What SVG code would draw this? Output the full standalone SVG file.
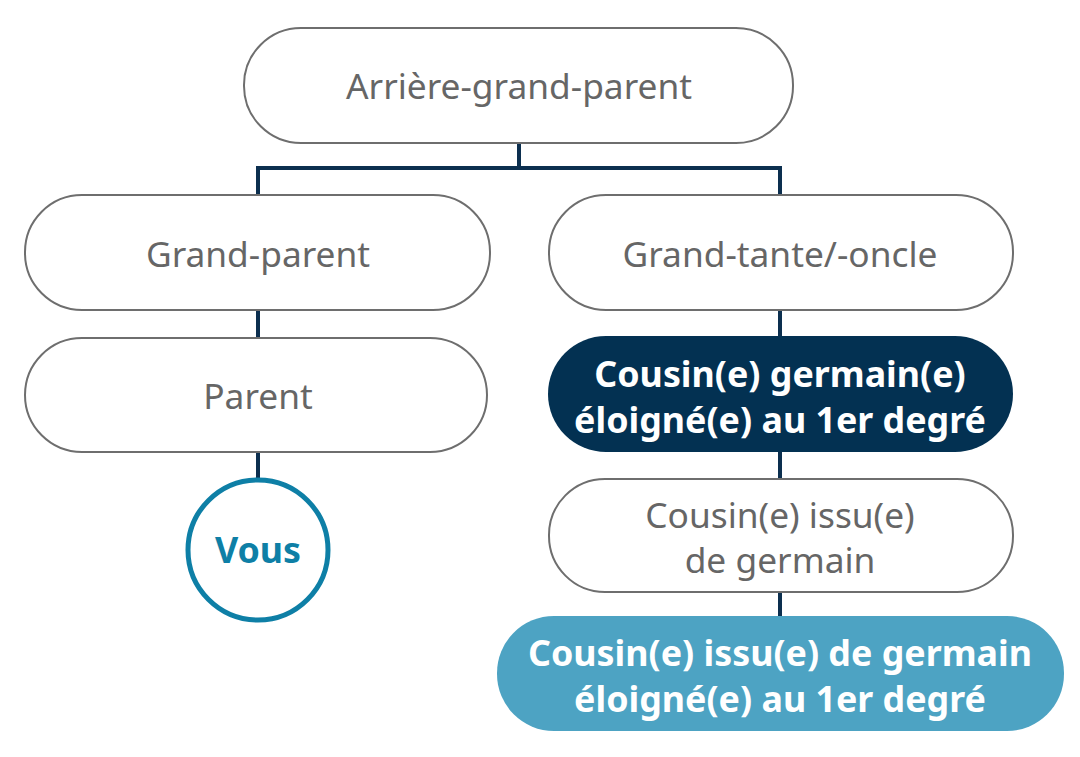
<svg xmlns="http://www.w3.org/2000/svg" width="1080" height="757" viewBox="0 0 1080 757">
<style>
.box{fill:#fff;stroke:#6e6e6e;stroke-width:2}
.t{font-family:"Noto Sans","Liberation Sans",sans-serif;font-size:35.3px;fill:#666;text-anchor:middle}
.b{font-family:"Noto Sans","Liberation Sans",sans-serif;font-size:35.8px;font-weight:bold;fill:#fff;text-anchor:middle}
.c{stroke:#0c2f4f;stroke-width:4;fill:none}
</style>
<rect width="1080" height="757" fill="#fff"/>
<g id="connectors">
<path class="c" d="M519,143 V168 M258,197 V168 H780 V197"/>
<path class="c" d="M258,310 V338"/>
<path class="c" d="M258,452 V480"/>
<path class="c" d="M780,310 V336"/>
<path class="c" d="M780,452 V479"/>
<path class="c" d="M780,592 V617"/>
</g>
<g id="n1"><rect class="box" x="244" y="28" width="549" height="115" rx="57"/><text class="t" x="519" y="99">Arrière-grand-parent</text></g>
<g id="n2"><rect class="box" x="25" y="195" width="465" height="115" rx="57"/><text class="t" x="258" y="267">Grand-parent</text></g>
<g id="n3"><rect class="box" x="549" y="195" width="464" height="115" rx="57"/><text class="t" x="780" y="267">Grand-tante/-oncle</text></g>
<g id="n4"><rect class="box" x="25" y="338" width="462" height="114" rx="57"/><text class="t" x="258" y="409">Parent</text></g>
<g id="n5"><circle cx="258" cy="550" r="70" fill="#fff" stroke="#0e7fa6" stroke-width="5"/><text class="b" x="258" y="563" style="fill:#0e7fa6">Vous</text></g>
<g id="n6"><rect x="548" y="336" width="465" height="116" rx="58" fill="#033152"/><text class="b" x="780" y="387">Cousin(e) germain(e)</text><text class="b" x="780" y="433">éloigné(e) au 1er degré</text></g>
<g id="n7"><rect class="box" x="549" y="479" width="464" height="113" rx="56"/><text class="t" x="780" y="528">Cousin(e) issu(e)</text><text class="t" x="780" y="573">de germain</text></g>
<g id="n8"><rect x="497" y="616" width="567" height="115" rx="57" fill="#4da3c3"/><text class="b" x="780" y="666">Cousin(e) issu(e) de germain</text><text class="b" x="780" y="712">éloigné(e) au 1er degré</text></g>
</svg>
